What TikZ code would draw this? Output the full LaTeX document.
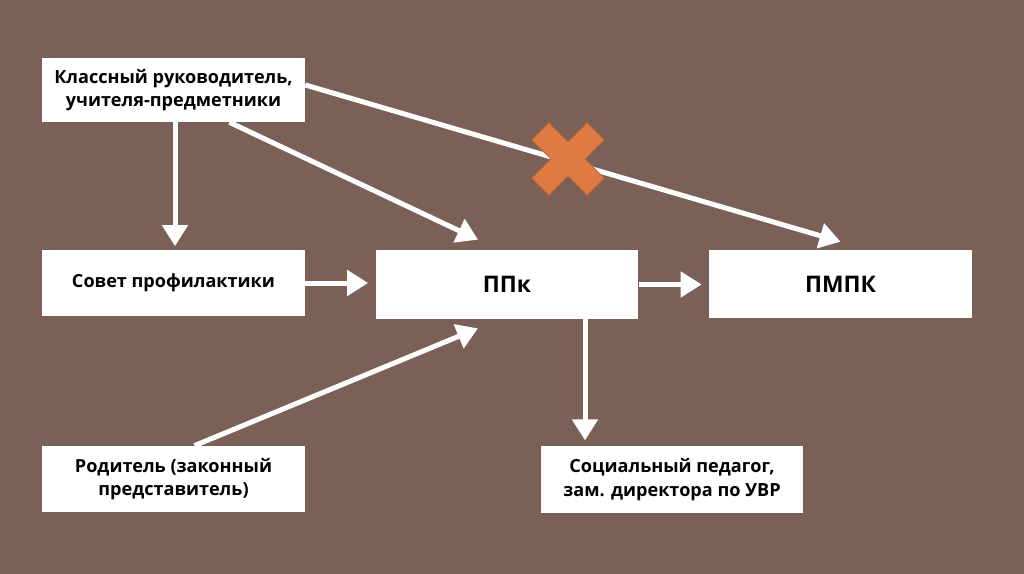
\documentclass[tikz,border=0pt]{standalone}
\usepackage{fontspec}
\setmainfont{Open Sans}
\usetikzlibrary{arrows.meta,positioning,calc}
\definecolor{bgbrown}{HTML}{7A6056}
\definecolor{crossorange}{HTML}{DE7B42}
\definecolor{crossedge}{HTML}{C66A38}
\tikzset{
  >={Triangle[width=0.5cm,length=0.42cm]},
  box/.style={draw=none,fill=white,align=center,minimum width=5.26cm,minimum height=1.3cm,font=\bfseries\fontsize{10.3}{13.5}\selectfont,inner sep=2pt},
  arr/.style={->,draw=white,line width=0.1cm},
  crossmark/.style={fill=crossorange,draw=crossedge,line width=0.6pt,line join=miter}
}
\begin{document}
\begin{tikzpicture}[x=0.02cm,y=-0.02cm]
\fill[bgbrown] (0,0) rectangle (1024,574);
\useasboundingbox (0,0) rectangle (1024,574);
% boxes
\node[box,minimum height=1.28cm] (kl) at (173.5,90) {Классный руководитель,\\учителя-предметники};
\node[box,minimum height=1.32cm] (sov) at (173.5,283) {Совет профилактики};
\node[box,minimum height=1.38cm,font=\bfseries\fontsize{13}{16}\selectfont] (ppk) at (507,284.5) {ППк};
\node[box,minimum height=1.36cm,font=\bfseries\fontsize{13}{16}\selectfont] (pmpk) at (840.5,284) {ПМПК};
\node[box,minimum height=1.32cm] (rod) at (173.5,479) {Родитель (законный\\представитель)};
\node[box,minimum height=1.34cm] (soc) at (672,479.5) {Социальный педагог,\\зам. директора по УВР};
% arrows
\coordinate (kl2) at ($(kl.south)+(56,0)$);
\coordinate (kl3) at ($(kl.east)+(0,-5)$);
\coordinate (ppkd) at ($(ppk.south)+(78,0)$);
\draw[arr,shorten >=2pt] ([xshift=0.03cm]kl.south) -- ([xshift=0.03cm]sov.north);
\draw[arr] (kl2) -- ($(ppk.north)+(-29,-10)$);
\draw[arr] (kl3) -- ($(pmpk.north)+(0,-8)$);
\draw[arr,shorten >=4pt] (sov) -- (sov -| ppk.west);
\draw[arr,shorten >=4pt] (ppk) -- (ppk -| pmpk.west);
\draw[arr,shorten >=3pt] (ppkd) -- (ppkd |- soc.north);
\draw[arr] ($(rod.north)+(21,0)$) -- ($(ppk.south)+(-29,9)$);
% cross
\coordinate (x) at (568,159);
\filldraw[crossmark,shift={(x)},rotate=45]
  (39,-12) -- (39,12) -- (12,12) -- (12,39) -- (-12,39) -- (-12,12) -- (-39,12) -- (-39,-12)
  -- (-12,-12) -- (-12,-39) -- (12,-39) -- (12,-12) -- cycle;
\end{tikzpicture}
\end{document}
